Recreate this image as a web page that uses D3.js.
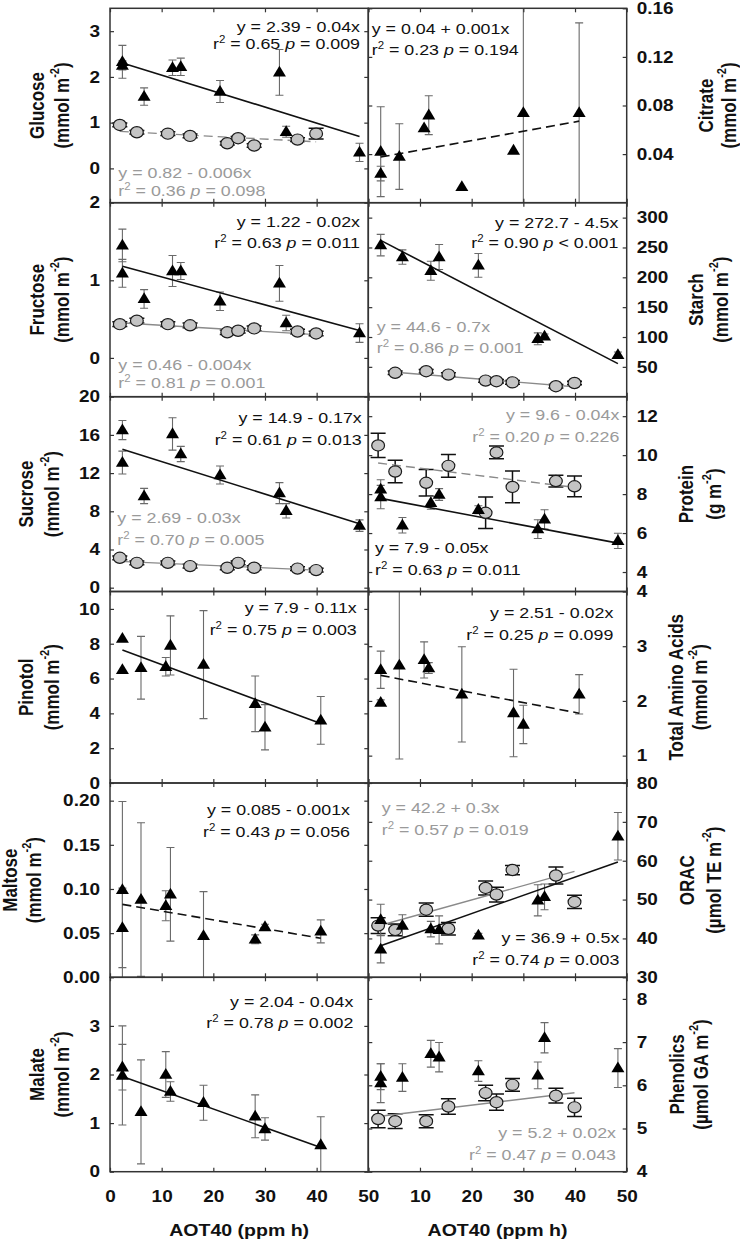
<!DOCTYPE html>
<html><head><meta charset="utf-8">
<script src="https://cdn.jsdelivr.net/npm/d3@7"></script>
<style>body{margin:0;background:#fff}svg{display:block}text{white-space:pre}</style>
</head><body>
<svg id="c" width="740" height="1248"></svg>
<script>
// ================= DATA =================
// AOT40 (ppm h) of the sampling sites
const aotTri  = [2.4, 2.4, 6.6, 12.1, 13.7, 21.3, 32.8, 34.1, 48.3];   // triangle series (set A)
const aotCirc = [1.9, 5.2, 11.2, 15.5, 22.7, 24.8, 27.9, 36.3, 39.9];  // circle series
const aotTri2 = [2.4, 2.4, 6.0, 10.8, 11.7, 18.1, 28.1, 30.0, 40.8];   // triangle series (set B)

// Glucose
const glucoseTri = [2.33, 2.25, 1.57, 2.20, 2.22, 1.68, 2.10, 0.80, 0.35];
const glucoseTriErr = [0.36, 0.10, 0.19, 0.17, 0.19, 0.24, 0.50, 0.12, 0.20];
const glucoseCirc = [0.95, 0.79, 0.76, 0.71, 0.55, 0.66, 0.50, 0.63, 0.76];
const glucoseCircErr = [0.04, 0.04, 0.04, 0.04, 0.04, 0.04, 0.04, 0.04, 0.12];
// Citrate
const citrateTri = [0.042, 0.024, 0.038, 0.0615, 0.072, 0.013, 0.043, 0.074, 0.074];
const citrateTriErr = [0.037, 0.006, 0.027, 0, 0.016, 0, 0, 0.1, 0.074];
// Fructose
const fructoseTri = [1.45, 1.09, 0.76, 1.12, 1.12, 0.73, 0.96, 0.45, 0.32];
const fructoseTriErr = [0.21, 0.18, 0.12, 0.20, 0.11, 0.12, 0.23, 0.10, 0.12];
const fructoseCirc = [0.435, 0.48, 0.435, 0.42, 0.33, 0.35, 0.38, 0.34, 0.315];
const fructoseCircErr = [0.03, 0.03, 0.03, 0.03, 0.03, 0.03, 0.03, 0.03, 0.03];
// Starch
const starchTri = [254, null, 234, 211, 234, 220, 97, 101, 70];
const starchTriErr = [18, null, 12, 16, 21, 20, 10, 4, 5];
const starchCirc = [null, 40, 42.7, 37, 27, 26, 24, 17.6, 23];
const starchCircErr = [null, 3, 3, 3, 3, 3, 3, 3, 3];
// Sucrose
const sucroseTri = [16.5, 13.1, 9.6, 16.1, 14.0, 11.8, 9.9, 8.05, 6.5];
const sucroseTriErr = [1.0, 1.2, 0.8, 1.7, 0.8, 0.95, 1.1, 0.75, 0.6];
const sucroseCirc = [3.13, 2.6, 2.6, 2.26, 2.09, 2.6, 2.09, 2.0, 1.84];
const sucroseCircErr = [0.2, 0.2, 0.2, 0.2, 0.2, 0.2, 0.2, 0.2, 0.2];
// Protein
const proteinTri = [8.24, 7.85, 6.4, 7.55, 7.98, 7.2, 6.2, 6.7, 5.6];
const proteinTriErr = [0.5, 0.6, 0.4, 0.33, 0.3, 0.2, 0.48, 0.5, 0.39];
const proteinCirc = [10.5, 9.16, 8.58, 9.45, 7.04, 10.14, 8.37, 8.67, 8.4];
const proteinCircErr = [0.62, 0.58, 0.68, 0.58, 0.81, 0.33, 0.81, 0.3, 0.53];
// Pinotol
const pinotolTri = [8.3, 6.5, 6.62, 6.68, 7.9, 6.8, 4.55, 3.2, 3.6];
const pinotolTriErr = [0, 0, 1.8, 0.53, 1.7, 3.1, 1.6, 1.3, 1.37];
// Total amino acids
const aminoTri = [2.57, 1.97, 2.65, 2.75, 2.6, 2.12, 1.78, 1.57, 2.12];
const aminoTriErr = [0.34, 0.05, 1.71, 0.33, 0.1, 0.87, 0.8, 0.35, 0.36];
// Maltose
const maltoseTri = [0.099, 0.056, 0.088, 0.081, 0.094, 0.047, 0.043, 0.057, 0.052];
const maltoseTriErr = [0.1, 0.045, 0.087, 0.017, 0.053, 0.05, 0.005, 0.003, 0.013];
// ORAC
const oracTri = [44.8, 37.2, 43.3, 42.4, 42.2, 40.8, 49.8, 50.7, 66.3];
const oracTriErr = [4, 3.5, 2.8, 2, 3.6, 0.5, 4, 3.3, 6.1];
const oracCirc = [43.3, 42.2, 47.4, 42.5, 53.0, 51.3, 57.6, 56.2, 49.4];
const oracCircErr = [2.0, 1.5, 1.7, 1.6, 1.8, 1.9, 1.2, 2.2, 1.7];
// Malate
const malateTri = [2.15, 1.98, 1.23, 2.0, 1.65, 1.42, 1.14, 0.88, 0.55];
const malateTriErr = [0.47, 1.02, 1.07, 0.47, 0.2, 0.36, 0.44, 0.23, 0.58];
// Phenolics
const phenolTri = [6.2, 6.05, 6.18, 6.73, 6.65, 6.33, 6.23, 7.1, 6.4];
const phenolTriErr = [0.3, 0.45, 0.32, 0.31, 0.34, 0.24, 0.31, 0.35, 0.45];
const phenolCirc = [5.22, 5.17, 5.17, 5.51, 5.82, 5.61, 6.01, 5.76, 5.49];
const phenolCircErr = [0.2, 0.17, 0.15, 0.18, 0.18, 0.19, 0.15, 0.17, 0.21];

// Regression fits: [intercept, slope] as drawn
const fitGlucoseTri = [2.39, -0.035], fitGlucoseCirc = [0.82, -0.006];
const fitCitrate = [0.0357, 0.00077];
const fitFructoseTri = [1.223, -0.018], fitFructoseCirc = [0.46, -0.004];
const fitStarchTri = [272.7, -4.5], fitStarchCirc = [44.6, -0.7];
const fitSucroseTri = [14.9, -0.17], fitSucroseCirc = [2.8, -0.024];
const fitProteinTri = [7.9, -0.05], fitProteinCirc = [9.66, -0.033];
const fitPinotol = [7.9, -0.11];
const fitAmino = [2.51, -0.018];
const fitMaltose = [0.085, -0.001];
const fitOracTri = [37, 0.47], fitOracCirc = [42.5, 0.37];
const fitMalate = [2.05, -0.038];
const fitPhenolCirc = [5.25, 0.0145];

// Equation labels: [equation, r2, p operator, p value]
const eqGlucoseTri = ["y = 2.39 - 0.04x", "0.65", "=", "0.009"];
const eqGlucoseCirc = ["y = 0.82 - 0.006x", "0.36", "=", "0.098"];
const eqCitrate = ["y = 0.04 + 0.001x", "0.23", "=", "0.194"];
const eqFructoseTri = ["y = 1.22 - 0.02x", "0.63", "=", "0.011"];
const eqFructoseCirc = ["y = 0.46 - 0.004x", "0.81", "=", "0.001"];
const eqStarchTri = ["y = 272.7 - 4.5x", "0.90", "<", "0.001"];
const eqStarchCirc = ["y = 44.6 - 0.7x", "0.86", "=", "0.001"];
const eqSucroseTri = ["y = 14.9 - 0.17x", "0.61", "=", "0.013"];
const eqSucroseCirc = ["y = 2.69 - 0.03x", "0.70", "=", "0.005"];
const eqProteinCirc = ["y = 9.6 - 0.04x", "0.20", "=", "0.226"];
const eqProteinTri = ["y = 7.9 - 0.05x", "0.63", "=", "0.011"];
const eqPinotol = ["y = 7.9 - 0.11x", "0.75", "=", "0.003"];
const eqAmino = ["y = 2.51 - 0.02x", "0.25", "=", "0.099"];
const eqMaltose = ["y = 0.085 - 0.001x", "0.43", "=", "0.056"];
const eqOracCirc = ["y = 42.2 + 0.3x", "0.57", "=", "0.019"];
const eqOracTri = ["y = 36.9 + 0.5x", "0.74", "=", "0.003"];
const eqMalate = ["y = 2.04 - 0.04x", "0.78", "=", "0.002"];
const eqPhenolCirc = ["y = 5.2 + 0.02x", "0.47", "=", "0.043"];

// Axis titles and tick values
const titleGlucose = ["Glucose", "(mmol m", "-2", ")"];
const titleCitrate = ["Citrate", "(mmol m", "-2", ")"];
const titleFructose = ["Fructose", "(mmol m", "-2", ")"];
const titleStarch = ["Starch", "(mmol m", "-2", ")"];
const titleSucrose = ["Sucrose", "(mmol m", "-2", ")"];
const titleProtein = ["Protein", "(g m", "-2", ")"];
const titlePinotol = ["Pinotol", "(mmol m", "-2", ")"];
const titleAmino = ["Total Amino Acids", "(mmol m", "-2", ")"];
const titleMaltose = ["Maltose", "(mmol m", "-2", ")"];
const titleOrac = ["ORAC", "(\u00b5mol TE m", "-2", ")"];
const titleMalate = ["Malate", "(mmol m", "-2", ")"];
const titlePhenol = ["Phenolics", "(\u00b5mol GA m", "-2", ")"];
const xTitle = "AOT40 (ppm h)";
const xTicks = [0, 10, 20, 30, 40, 50];
const ticksGlucose = [0, 1, 2, 3], ticksCitrate = [0.04, 0.08, 0.12, 0.16];
const ticksFructose = [0, 1, 2], ticksStarch = [50, 100, 150, 200, 250, 300];
const ticksSucrose = [0, 4, 8, 12, 16, 20], ticksProtein = [4, 6, 8, 10, 12];
const ticksPinotol = [0, 2, 4, 6, 8, 10], ticksAmino = [1, 2, 3, 4];
const ticksMaltose = [0, 0.05, 0.10, 0.15, 0.20], ticksOrac = [30, 40, 50, 60, 70, 80];
const ticksMalate = [0, 1, 2, 3], ticksPhenol = [4, 5, 6, 7, 8];

// ================= LAYOUT / STYLE =================
const W = 740, H = 1248;
const rowY = [8.3, 202.7, 396.7, 591.5, 783, 977.3, 1171.7];
const colX = [110, 368.3, 626.7];
const SX = 1.15;           // horizontal glyph stretch of the source figure
const FONT = "'Liberation Sans', Arial, Helvetica, sans-serif";
const GRAY_TXT = "#9a9a9a";
const lineStyles = {
  k:  {color: "#111", width: 1.6, dash: null},
  kd: {color: "#111", width: 1.6, dash: "9,5"},
  g:  {color: "#8a8a8a", width: 1.4, dash: null},
  gd: {color: "#8a8a8a", width: 1.4, dash: "9,5"}
};

const range = a => d3.extent(a);
const panels = [
  {row:0, col:0, dom:[-0.75, 3.5], ticks:ticksGlucose, fmt:d3.format("d"), title:titleGlucose, tx:[36.7, 62],
   series:[{x:aotCirc, y:glucoseCirc, e:glucoseCircErr, m:"c"}, {x:aotTri, y:glucoseTri, e:glucoseTriErr, m:"t"}],
   fits:[{c:fitGlucoseTri, xr:range(aotTri), s:"k"}, {c:fitGlucoseCirc, xr:range(aotCirc), s:"gd"}],
   notes:[{eq:eqGlucoseTri, col:"k", a:"end", x:250, y:[23.5, 41]}, {eq:eqGlucoseCirc, col:"g", a:"start", x:8.3, y:[170, 188]}]},
  {row:0, col:1, dom:[0, 0.16], ticks:ticksCitrate, fmt:d3.format(".2f"), title:titleCitrate, tx:[706.5, 728.5],
   series:[{x:aotTri2, y:citrateTri, e:citrateTriErr, m:"t"}],
   fits:[{c:fitCitrate, xr:range(aotTri2), s:"kd"}],
   notes:[{eq:eqCitrate, col:"k", a:"start", x:3.4, y:[26, 46.5]}]},
  {row:1, col:0, dom:[-0.5, 2], ticks:ticksFructose, fmt:d3.format("d"), title:titleFructose, tx:[36.7, 62],
   series:[{x:aotCirc, y:fructoseCirc, e:fructoseCircErr, m:"c"}, {x:aotTri, y:fructoseTri, e:fructoseTriErr, m:"t"}],
   fits:[{c:fitFructoseTri, xr:range(aotTri), s:"k"}, {c:fitFructoseCirc, xr:range(aotCirc), s:"g"}],
   notes:[{eq:eqFructoseTri, col:"k", a:"end", x:250, y:[24, 45.6]}, {eq:eqFructoseCirc, col:"g", a:"start", x:8.3, y:[167.5, 185.5]}]},
  {row:1, col:1, dom:[0, 325], ticks:ticksStarch, fmt:d3.format("d"), title:titleStarch, tx:[696.5, 721],
   series:[{x:aotCirc, y:starchCirc, e:starchCircErr, m:"c"}, {x:aotTri, y:starchTri, e:starchTriErr, m:"t"}],
   fits:[{c:fitStarchTri, xr:range(aotTri), s:"k"}, {c:fitStarchCirc, xr:[5.2, 39.9], s:"g"}],
   notes:[{eq:eqStarchTri, col:"k", a:"end", x:250, y:[25, 45.6]}, {eq:eqStarchCirc, col:"g", a:"start", x:8.4, y:[129, 150.6]}]},
  {row:2, col:0, dom:[-0.4, 20], ticks:ticksSucrose, fmt:d3.format("d"), title:titleSucrose, tx:[26, 51.7],
   series:[{x:aotCirc, y:sucroseCirc, e:sucroseCircErr, m:"c"}, {x:aotTri, y:sucroseTri, e:sucroseTriErr, m:"t"}],
   fits:[{c:fitSucroseTri, xr:range(aotTri), s:"k"}, {c:fitSucroseCirc, xr:range(aotCirc), s:"g"}],
   notes:[{eq:eqSucroseTri, col:"k", a:"end", x:251.7, y:[26.6, 48.3]}, {eq:eqSucroseCirc, col:"g", a:"start", x:7.3, y:[126.6, 148.3]}]},
  {row:2, col:1, dom:[3, 13], ticks:ticksProtein, fmt:d3.format("d"), title:titleProtein, tx:[686.5, 714],
   series:[{x:aotCirc, y:proteinCirc, e:proteinCircErr, m:"c"}, {x:aotTri, y:proteinTri, e:proteinTriErr, m:"t"}],
   fits:[{c:fitProteinTri, xr:range(aotTri), s:"k"}, {c:fitProteinCirc, xr:range(aotCirc), s:"gd"}],
   notes:[{eq:eqProteinCirc, col:"g", a:"end", x:251, y:[23.3, 45]}, {eq:eqProteinTri, col:"k", a:"start", x:6.7, y:[156.6, 178.3]}]},
  {row:3, col:0, dom:[0, 11], ticks:ticksPinotol, fmt:d3.format("d"), title:titlePinotol, tx:[26, 51.7],
   series:[{x:aotTri2, y:pinotolTri, e:pinotolTriErr, m:"t"}],
   fits:[{c:fitPinotol, xr:range(aotTri2), s:"k"}],
   notes:[{eq:eqPinotol, col:"k", a:"end", x:246.7, y:[21.2, 43.5]}]},
  {row:3, col:1, dom:[0.5, 4], ticks:ticksAmino, fmt:d3.format("d"), title:titleAmino, tx:[676, 700],
   series:[{x:aotTri2, y:aminoTri, e:aminoTriErr, m:"t"}],
   fits:[{c:fitAmino, xr:range(aotTri2), s:"kd"}],
   notes:[{eq:eqAmino, col:"k", a:"end", x:245, y:[26.8, 48.5]}]},
  {row:4, col:0, dom:[0, 0.22], ticks:ticksMaltose, fmt:d3.format(".2f"), title:titleMaltose, tx:[10, 34],
   series:[{x:aotTri2, y:maltoseTri, e:maltoseTriErr, m:"t"}],
   fits:[{c:fitMaltose, xr:range(aotTri2), s:"kd"}],
   notes:[{eq:eqMaltose, col:"k", a:"end", x:240, y:[32, 53.7]}]},
  {row:4, col:1, dom:[30, 80], ticks:ticksOrac, fmt:d3.format("d"), title:titleOrac, tx:[686.7, 714],
   series:[{x:aotCirc, y:oracCirc, e:oracCircErr, m:"c"}, {x:aotTri, y:oracTri, e:oracTriErr, m:"t"}],
   fits:[{c:fitOracCirc, xr:range(aotCirc), s:"g"}, {c:fitOracTri, xr:range(aotTri), s:"k"}],
   notes:[{eq:eqOracCirc, col:"g", a:"start", x:13.4, y:[30.3, 52]}, {eq:eqOracTri, col:"k", a:"end", x:251, y:[160.3, 182]}]},
  {row:5, col:0, dom:[0, 4], ticks:ticksMalate, fmt:d3.format("d"), title:titleMalate, tx:[36.7, 62],
   series:[{x:aotTri2, y:malateTri, e:malateTriErr, m:"t"}],
   fits:[{c:fitMalate, xr:range(aotTri2), s:"k"}],
   notes:[{eq:eqMalate, col:"k", a:"end", x:243.3, y:[29.4, 51]}]},
  {row:5, col:1, dom:[4, 8.5], ticks:ticksPhenol, fmt:d3.format("d"), title:titlePhenol, tx:[676.7, 701],
   series:[{x:aotCirc, y:phenolCirc, e:phenolCircErr, m:"c"}, {x:aotTri, y:phenolTri, e:phenolTriErr, m:"t"}],
   fits:[{c:fitPhenolCirc, xr:range(aotCirc), s:"g"}],
   notes:[{eq:eqPhenolCirc, col:"g", a:"end", x:247.7, y:[161, 182.7]}]}
];

// ================= DRAW =================
const svg = d3.select("#c").attr("font-family", FONT);
svg.append("rect").attr("width", W).attr("height", H).attr("fill", "#fff");
const defs = svg.append("defs");
const layerErr = svg.append("g"), layerFit = svg.append("g"), layerMark = svg.append("g");
const layerAxis = svg.append("g"), layerText = svg.append("g");

const triPath = "M0,-6.6L6.5,4.2L-6.5,4.2Z";
const TICK_FS = 16.5;

function stretchText(sel, x, y, rot) {
  sel.attr("transform", `translate(${x},${y}) scale(${SX},1)` + (rot ? ` rotate(${rot})` : ""));
  return sel;
}

function addEq(g, n, px0, py0) {
  const fill = n.col === "g" ? GRAY_TXT : "#111";
  const [eq, r2, op, pv] = n.eq;
  const t1 = g.append("text").attr("font-size", 15.5).attr("fill", fill).attr("text-anchor", n.a).text(eq);
  stretchText(t1, px0 + n.x, py0 + n.y[0]);
  const t2 = g.append("text").attr("font-size", 15.5).attr("fill", fill).attr("text-anchor", n.a);
  t2.append("tspan").text("r");
  t2.append("tspan").attr("dy", -6).attr("font-size", 10).text("2");
  t2.append("tspan").attr("dy", 6).text(` = ${r2} `);
  t2.append("tspan").attr("font-style", "italic").text("p");
  t2.append("tspan").text(` ${op} ${pv}`);
  stretchText(t2, px0 + n.x, py0 + n.y[1]);
}

function styleAxis(g) {
  g.attr("font-size", TICK_FS).attr("font-family", FONT).attr("font-weight", "bold").attr("fill", null);
  g.select(".domain").remove();
  g.selectAll(".tick line").attr("stroke", "#333").attr("stroke-width", 1.2);
  g.selectAll(".tick text").attr("fill", "#111");
}

panels.forEach((p, i) => {
  const x0 = colX[p.col], x1 = colX[p.col + 1], y0 = rowY[p.row], y1 = rowY[p.row + 1];
  const xs = d3.scaleLinear().domain([0, 50]).range([x0, x1]);
  const ys = d3.scaleLinear().domain(p.dom).range([y1, y0]);
  const cid = "clip" + i;
  defs.append("clipPath").attr("id", cid).append("rect")
    .attr("x", x0).attr("y", y0).attr("width", x1 - x0).attr("height", y1 - y0);

  // error bars
  const ge = layerErr.append("g").attr("clip-path", `url(#${cid})`);
  p.series.forEach(s => {
    const pts = s.x.map((x, k) => ({x, y: s.y[k], e: s.e ? s.e[k] : 0})).filter(d => d.y != null && d.e > 0);
    const circ = s.m === "c";
    const cw = circ ? 7.5 : 4;
    const col = circ ? "#111" : "#6a6a6a";
    const sw = circ ? 1.5 : 1.1;
    pts.forEach(d => {
      const cx = xs(d.x), yt = ys(d.y + d.e), yb = ys(d.y - d.e);
      ge.append("line").attr("x1", cx).attr("x2", cx).attr("y1", yt).attr("y2", yb).attr("stroke", col).attr("stroke-width", sw);
      [yt, yb].forEach(yy => ge.append("line").attr("x1", cx - cw).attr("x2", cx + cw).attr("y1", yy).attr("y2", yy)
        .attr("stroke", col).attr("stroke-width", sw));
    });
  });

  // regression lines
  const gf = layerFit.append("g").attr("clip-path", `url(#${cid})`);
  p.fits.forEach(f => {
    const st = lineStyles[f.s];
    const [b0, b1] = f.c;
    const ln = d3.line().x(d => xs(d)).y(d => ys(b0 + b1 * d));
    gf.append("path").attr("d", ln(f.xr)).attr("fill", "none").attr("stroke", st.color)
      .attr("stroke-width", st.width).attr("stroke-dasharray", st.dash);
  });

  // markers
  const gm = layerMark.append("g");
  p.series.forEach(s => {
    const pts = s.x.map((x, k) => ({x, y: s.y[k]})).filter(d => d.y != null);
    if (s.m === "c") {
      gm.selectAll(null).data(pts).join("ellipse")
        .attr("cx", d => xs(d.x)).attr("cy", d => ys(d.y)).attr("rx", 6.4).attr("ry", 5.6)
        .attr("fill", "#c4c4c4").attr("stroke", "#1a1a1a").attr("stroke-width", 1.2);
    } else {
      gm.selectAll(null).data(pts).join("path").attr("d", triPath)
        .attr("transform", d => `translate(${xs(d.x)},${ys(d.y)})`).attr("fill", "#000");
    }
  });

  // axes (inward ticks)
  const ga = layerAxis.append("g");
  const bottomRow = p.row === 5;
  const xb = d3.axisBottom(xs).tickValues(xTicks).tickSize(-4).tickSizeOuter(0).tickPadding(19);
  if (!bottomRow) xb.tickFormat("");
  else xb.tickFormat(v => (p.col === 1 && v === 0) ? "" : d3.format("d")(v));
  const gxB = ga.append("g").attr("transform", `translate(0,${y1})`).call(xb).call(styleAxis);
  ga.append("g").attr("transform", `translate(0,${y0})`)
    .call(d3.axisTop(xs).tickValues(xTicks).tickSize(-4).tickSizeOuter(0).tickFormat("")).call(styleAxis);
  const outer = p.col === 0
    ? d3.axisLeft(ys).tickValues(p.ticks).tickSize(-4).tickSizeOuter(0).tickPadding(10).tickFormat(p.fmt)
    : d3.axisRight(ys).tickValues(p.ticks).tickSize(-4).tickSizeOuter(0).tickPadding(10).tickFormat(p.fmt);
  const inner = p.col === 0
    ? d3.axisRight(ys).tickValues(p.ticks).tickSize(-4).tickSizeOuter(0).tickFormat("")
    : d3.axisLeft(ys).tickValues(p.ticks).tickSize(-4).tickSizeOuter(0).tickFormat("");
  const gyO = ga.append("g").attr("transform", `translate(${p.col === 0 ? x0 : x1},0)`).call(outer).call(styleAxis);
  ga.append("g").attr("transform", `translate(${p.col === 0 ? x1 : x0},0)`).call(inner).call(styleAxis);
  // stretch tick labels horizontally like the source
  gyO.selectAll(".tick text").each(function() {
    const t = d3.select(this);
    const xx = +t.attr("x");
    t.attr("x", xx / SX).attr("transform", `scale(${SX},1)`);
  });
  gxB.selectAll(".tick text").attr("transform", `scale(${SX},1)`);

  // frame
  ga.append("rect").attr("x", x0).attr("y", y0).attr("width", x1 - x0).attr("height", y1 - y0)
    .attr("fill", "none").attr("stroke", "#333").attr("stroke-width", 1.5);

  // equations
  p.notes.forEach(n => addEq(layerText, n, x0, y0));

  // y titles
  const cy = (y0 + y1) / 2;
  const [main, u1, sup, u2] = p.title;
  const tA = layerText.append("text").attr("font-size", 17).attr("font-weight", "bold").attr("fill", "#111")
    .attr("text-anchor", "middle").attr("dominant-baseline", "central").text(main);
  stretchText(tA, p.tx[0], cy, -90);
  const tB = layerText.append("text").attr("font-size", 17).attr("font-weight", "bold").attr("fill", "#111")
    .attr("text-anchor", "middle").attr("dominant-baseline", "central");
  tB.append("tspan").text(u1);
  tB.append("tspan").attr("dy", -6).attr("font-size", 11).text(sup);
  tB.append("tspan").attr("dy", 6).text(u2);
  stretchText(tB, p.tx[1], cy, -90);
});

// x-axis titles
[0, 1].forEach(c => {
  const t = layerText.append("text").attr("font-size", 17).attr("font-weight", "bold").attr("fill", "#111")
    .attr("text-anchor", "middle").text(xTitle);
  stretchText(t, (colX[c] + colX[c + 1]) / 2, 1236);
});
</script>
</body></html>
